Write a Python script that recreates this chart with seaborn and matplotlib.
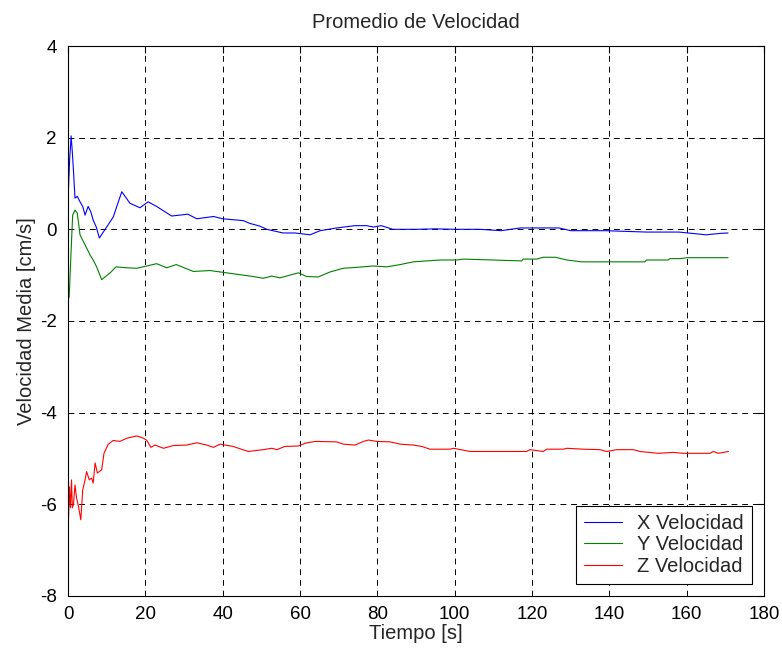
import numpy as np
import pandas as pd
import matplotlib
matplotlib.use("Agg")
import matplotlib.pyplot as plt
import seaborn as sns

# Running mean velocity per axis (time in s, velocity in cm/s)
x_t = [0, 0.4, 0.8, 1.1, 1.4, 1.8, 2.4, 3.1, 3.8, 4.4, 5.2, 5.9, 6.5, 7.3, 8.1, 9.6,
       11.7, 13.9, 16, 18.6, 20.7, 22.9, 26.8, 31, 33.3, 37.6, 40, 45.3, 47, 49.6,
       51.4, 55.6, 58.7, 62.6, 65.2, 69.5, 74.2, 77.2, 79, 81, 84, 90, 95, 100,
       106.5, 112, 117, 127, 130, 139, 149.6, 158, 165, 168.6, 170.7]
x_v = [0.64, 1.5, 2.04, 1.7, 1.29, 0.68, 0.72, 0.6, 0.5, 0.31, 0.5, 0.38, 0.2, 0.05,
       -0.19, 0.0, 0.27, 0.82, 0.57, 0.47, 0.6, 0.5, 0.29, 0.33, 0.23, 0.28, 0.23,
       0.19, 0.13, 0.07, 0.0, -0.08, -0.08, -0.12, -0.03, 0.03, 0.08, 0.08, 0.05,
       0.08, 0.0, 0.0, 0.01, 0.0, 0.0, -0.03, 0.03, 0.03, -0.03, -0.03, -0.06,
       -0.06, -0.12, -0.09, -0.08]

y_t = [0, 0.3, 0.8, 1.2, 1.8, 2.4, 3.1, 4.4, 5.7, 6.5, 7.4, 8.7, 10.9, 12.4, 15.2,
       17.8, 20.4, 22.9, 25.5, 28, 32.4, 36.7, 41, 45.3, 47.9, 50.5, 52.7, 54.8,
       59.6, 61.7, 64.7, 67.8, 71.2, 74.7, 79, 82.4, 85.9, 89.3, 96.2, 100.5, 102.2,
       110, 117.3, 117.7, 121.2, 122.9, 126, 129, 132.8, 149.2, 149.6, 155.2, 155.7,
       158.3, 160, 170.7]
y_v = [-1.55, -1.47, -0.45, 0.31, 0.42, 0.35, -0.12, -0.34, -0.56, -0.67, -0.82,
       -1.1, -0.95, -0.82, -0.84, -0.85, -0.8, -0.75, -0.84, -0.77, -0.92, -0.9,
       -0.95, -1.0, -1.03, -1.07, -1.02, -1.06, -0.95, -1.03, -1.04, -0.93, -0.85,
       -0.83, -0.8, -0.82, -0.77, -0.71, -0.67, -0.67, -0.65, -0.67, -0.69, -0.65,
       -0.65, -0.61, -0.61, -0.67, -0.71, -0.71, -0.67, -0.67, -0.64, -0.64, -0.62,
       -0.62]

z_t = [0, 0.1, 0.35, 0.6, 0.9, 1.1, 1.4, 1.8, 2.2, 2.7, 3.3, 3.8, 4.4, 4.8, 5.5,
       6.1, 6.5, 7.0, 7.6, 8.7, 9.3, 10.4, 11.7, 13.4, 15.2, 17.8, 19.5, 20.4, 21.4,
       22.5, 24.7, 27.2, 30.7, 33.3, 35.9, 37.6, 39.3, 42.7, 46.6, 50.5, 52.7, 54,
       56.1, 59.6, 61.3, 63.9, 69.5, 71.2, 74.2, 76.4, 77.7, 79.8, 83.3, 85.9, 89.3,
       91.5, 93.6, 98.8, 99.7, 104, 118.6, 119.5, 122.9, 123.8, 128.1, 129, 133.3,
       137.6, 139.3, 141.9, 146.2, 147.9, 152.6, 156.5, 159.1, 166, 166.9, 168.2,
       170.8]
z_v = [-7.3, -6.41, -5.62, -6.08, -5.47, -6.08, -6.0, -5.58, -5.86, -6.05, -6.34,
       -5.69, -5.47, -5.29, -5.47, -5.43, -5.54, -5.1, -5.32, -5.25, -4.89, -4.69,
       -4.61, -4.63, -4.56, -4.51, -4.56, -4.61, -4.76, -4.71, -4.78, -4.72, -4.71,
       -4.66, -4.71, -4.76, -4.69, -4.74, -4.85, -4.81, -4.78, -4.81, -4.74, -4.73,
       -4.67, -4.63, -4.64, -4.69, -4.71, -4.63, -4.6, -4.63, -4.64, -4.69, -4.71,
       -4.74, -4.8, -4.8, -4.78, -4.85, -4.85, -4.81, -4.85, -4.8, -4.8, -4.78,
       -4.8, -4.81, -4.85, -4.81, -4.81, -4.85, -4.89, -4.87, -4.89, -4.89, -4.85,
       -4.89, -4.85]

series_names = ["X Velocidad", "Y Velocidad", "Z Velocidad"]
series_colors = ["#0000ff", "#008000", "#ff0000"]
x_ticks = [0, 20, 40, 60, 80, 100, 120, 140, 160, 180]
y_ticks = [-8, -6, -4, -2, 0, 2, 4]

df = pd.concat([
    pd.DataFrame({"t": x_t, "v": x_v, "serie": series_names[0]}),
    pd.DataFrame({"t": y_t, "v": y_v, "serie": series_names[1]}),
    pd.DataFrame({"t": z_t, "v": z_v, "serie": series_names[2]}),
], ignore_index=True)

sns.set_style("white")
plt.rcParams["font.family"] = ["Liberation Sans", "DejaVu Sans"]
plt.rcParams["axes.unicode_minus"] = False

fig = plt.figure(figsize=(7.82, 6.49), dpi=100)
ax = fig.add_axes([0.087, 0.082, 0.890, 0.847])

sns.lineplot(data=df, x="t", y="v", hue="serie", hue_order=series_names,
             palette=dict(zip(series_names, series_colors)), estimator=None,
             sort=False, linewidth=0.8, ax=ax)

ax.set_xlim(0, 180)
ax.set_ylim(-8, 4)
ax.set_xticks(x_ticks)
ax.set_yticks(y_ticks)
ax.grid(True, color="black", linestyle=(0, (6, 5)), linewidth=0.7)
ax.set_axisbelow(True)
for s in ax.spines.values():
    s.set_visible(True)
    s.set_color("black")
    s.set_linewidth(0.8)
ax.tick_params(direction="in", length=5, width=0.8, top=True, right=True,
               labelsize=13.5, colors="black")
ax.tick_params(axis="y", pad=8)
ax.tick_params(axis="x", pad=7)

ax.set_title("Promedio de Velocidad", fontsize=14.5, pad=13)
ax.set_xlabel("Tiempo [s]", fontsize=14.5, labelpad=1)
ax.set_ylabel("Velocidad Media [cm/s]", fontsize=14.5, labelpad=3)

leg = ax.legend(loc="lower right", fontsize=14.5, frameon=True, fancybox=False,
                edgecolor="black", framealpha=1, handlelength=1.9,
                handletextpad=0.75, labelspacing=0.12, borderpad=0.4,
                borderaxespad=0.6)
leg.get_frame().set_linewidth(0.8)
for line in leg.get_lines():
    line.set_linewidth(0.8)

fig.savefig("out.png", dpi=100, facecolor="white")
